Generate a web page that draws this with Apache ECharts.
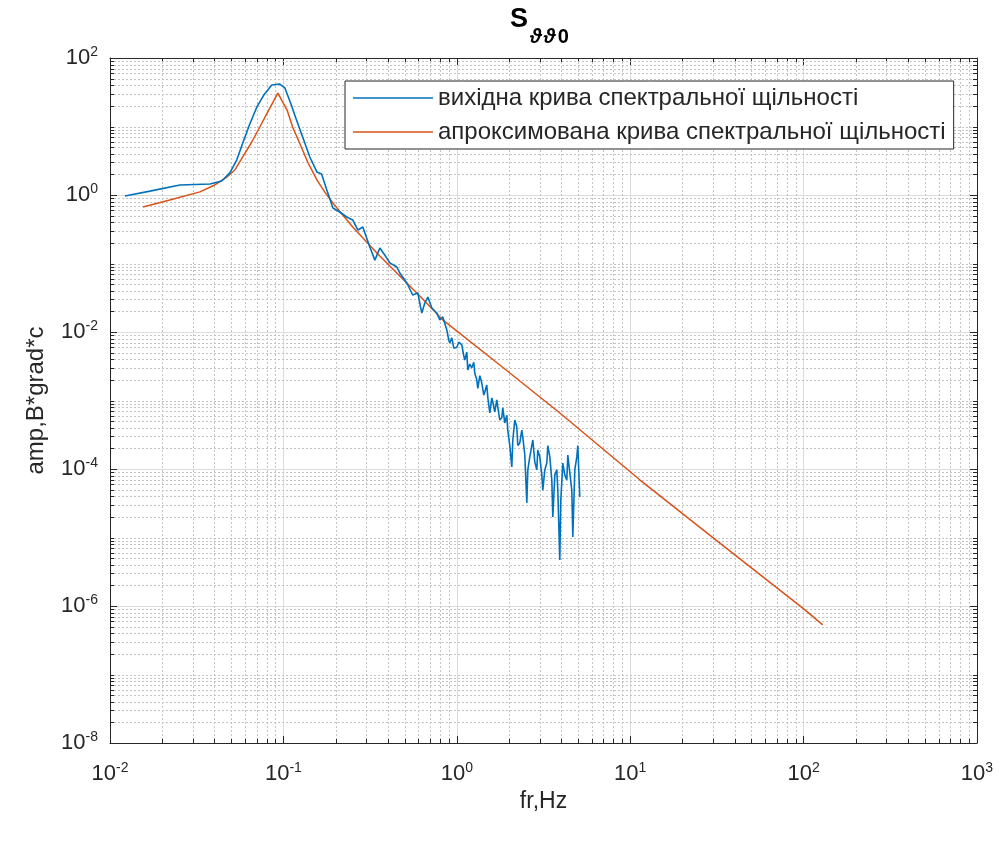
<!DOCTYPE html>
<html>
<head>
<meta charset="utf-8">
<title>S spectrum</title>
<script src="https://cdn.jsdelivr.net/npm/echarts@6/dist/echarts.min.js"></script>
<style>
  html, body { margin: 0; padding: 0; background: #fff; }
  #chart { width: 1005px; height: 842px; }
</style>
</head>
<body>
<div id="chart"></div>
<script>
// axis ranges, in decades
const xExpRange = [-2, 3];
const yExpRange = [-8, 2];

const legendNames = [
  'вихідна крива спектральної щільності',
  'апроксимована крива спектральної щільності'
];

// вихідна крива (raw spectrum)
const rawFreq = [
  0.0122, 0.0170, 0.0253, 0.0377, 0.0441, 0.0491, 0.0538, 0.0583, 0.0640, 0.0703,
  0.0771, 0.0857, 0.0953, 0.102, 0.110, 0.119, 0.131, 0.142, 0.156, 0.166,
  0.178, 0.193, 0.211, 0.232, 0.251, 0.269, 0.287, 0.315, 0.337, 0.360,
  0.384, 0.411, 0.451, 0.469, 0.515, 0.557, 0.596, 0.628, 0.654, 0.681,
  0.718, 0.767, 0.798, 0.830,
  0.876, 0.899, 0.911, 0.936, 0.961, 1.00, 1.027, 1.069, 1.097, 1.112,
  1.142, 1.157, 1.188, 1.220, 1.253, 1.270, 1.304, 1.322, 1.357, 1.394,
  1.431, 1.450, 1.489, 1.509, 1.529, 1.550, 1.591, 1.613, 1.656, 1.701,
  1.723, 1.770, 1.817, 1.842, 1.891, 1.942, 1.968, 2.021, 2.076, 2.104,
  2.160, 2.218, 2.248, 2.308, 2.371, 2.403, 2.467, 2.534, 2.568, 2.636,
  2.707, 2.744, 2.818, 2.893, 2.932, 3.011, 3.092, 3.133, 3.218, 3.304,
  3.349, 3.439, 3.531, 3.578, 3.675, 3.773, 3.824, 3.926, 3.979, 4.086,
  4.196, 4.309, 4.367, 4.484, 4.605, 4.667, 4.792, 4.921, 4.987, 5.121
];
const rawAmp = [
  0.967, 1.14, 1.40, 1.45, 1.60, 2.10, 3.24, 5.74, 10.9, 19.3,
  28.8, 40.4, 41.7, 36.5, 22.0, 12.4, 6.35, 3.59, 2.17, 2.03,
  1.18, 0.646, 0.565, 0.477, 0.432, 0.308, 0.341, 0.174, 0.112, 0.168,
  0.133, 0.102, 0.0889, 0.0727, 0.0519, 0.0347, 0.0371, 0.0189, 0.0265, 0.0324,
  0.0224, 0.0189, 0.0150, 0.0166,
  0.0107, 0.0076, 0.0069, 0.0082, 0.0058, 0.0060, 0.0071, 0.0065, 0.0045, 0.0039,
  0.0051, 0.0028, 0.0034, 0.0030, 0.0036, 0.0025, 0.0020, 0.0015, 0.0023, 0.0018,
  0.0012, 0.00133, 0.00168, 0.00112, 0.00086, 0.00066, 0.00109, 0.00095, 0.00068, 0.00102,
  0.00080, 0.00052, 0.00056, 0.00078, 0.00047, 0.00061, 0.00037, 0.00022, 0.000107, 0.000265,
  0.00052, 0.00041, 0.00022, 0.00024, 0.00037, 0.00029, 0.00016, 0.000032, 0.000097, 0.000150,
  0.00022, 0.000265, 0.000126, 0.000097, 0.000189, 0.000150, 0.000082, 0.000049, 0.000097, 0.000122,
  0.00022, 0.000150, 0.000069, 0.000020, 0.000082, 0.000097, 0.000049, 0.0000047, 0.000035, 0.000122,
  0.000082, 0.000069, 0.000160, 0.000150, 0.000049, 0.0000102, 0.000097, 0.000150, 0.00022, 0.000039
];

// апроксимована крива (fitted spectrum)
const fitFreq = [
  0.0155, 0.0221, 0.0330, 0.0402, 0.0472, 0.0525, 0.0583, 0.0657, 0.0731, 0.0813,
  0.0929, 0.105, 0.113, 0.124, 0.138, 0.156, 0.173, 0.193, 0.251, 0.346,
  0.469, 0.612, 0.830, 1.77, 3.93, 11.4, 32.9, 98.9, 129
];
const fitAmp = [
  0.668, 0.845, 1.11, 1.40, 1.83, 2.32, 3.59, 5.94, 9.84, 16.3,
  30.8, 17.4, 9.84, 5.74, 3.03, 1.66, 1.11, 0.764, 0.341, 0.142,
  0.0657, 0.0335, 0.0150, 0.00330, 0.000657, 0.000069, 0.0000083, 0.00000093, 0.00000053
];

const FONT = "'Liberation Sans', Arial, Helvetica, sans-serif";
const AXIS_COLOR = '#262626';
const MAJOR_GRID = '#dcdcdc';
const MINOR_GRID = '#c4c4c4';
const BLUE = '#0072BD';
const ORANGE = '#D95319';

function zip(xs, ys) {
  return xs.map((x, i) => [x, ys[i]]);
}

function powLabel(value) {
  const e = Math.round(Math.log10(value));
  return '{b|10}{s|' + e + '}';
}

const tickRich = {
  b: { fontSize: 22, fontFamily: FONT, color: AXIS_COLOR, lineHeight: 26 },
  s: { fontSize: 14, fontFamily: FONT, color: AXIS_COLOR, lineHeight: 11, verticalAlign: 'top' }
};

// minor grid lines and minor ticks of the log axes (2..9 per decade)
function drawMinorGrid(params, api) {
  const cs = params.coordSys;
  const x0 = cs.x, x1 = cs.x + cs.width, y0 = cs.y, y1 = cs.y + cs.height;
  const kids = [];
  const dotted = { stroke: MINOR_GRID, lineWidth: 1, lineDash: [2, 2] };
  const tick = { stroke: AXIS_COLOR, lineWidth: 1 };
  const add = (a, b, c, d, style) => kids.push({
    type: 'line', shape: { x1: a, y1: b, x2: c, y2: d }, style: style
  });
  for (let e = xExpRange[0]; e < xExpRange[1]; e++) {
    for (let k = 2; k <= 9; k++) {
      const px = Math.round(api.coord([k * Math.pow(10, e), 1])[0]) + 0.5;
      add(px, y0, px, y1, dotted);
      add(px, y1, px, y1 - 4, tick);
      add(px, y0, px, y0 + 4, tick);
    }
  }
  for (let e = yExpRange[0]; e < yExpRange[1]; e++) {
    for (let k = 1; k <= 9; k++) {
      if (k === 1 && e % 2 === 0) continue;
      const py = Math.round(api.coord([1, k * Math.pow(10, e)])[1]) + 0.5;
      add(x0, py, x1, py, dotted);
      add(x0, py, x0 + 4, py, tick);
      add(x1, py, x1 - 4, py, tick);
    }
  }
  return { type: 'group', children: kids };
}

const chart = echarts.init(document.getElementById('chart'), null, { renderer: 'canvas' });

const option = {
  animation: false,
  backgroundColor: '#fff',
  textStyle: { fontFamily: FONT },
  // title: "S" with the subscript set lower, as in the source figure
  graphic: [{
    type: 'text',
    left: 510,
    top: 6,
    z: 10,
    style: {
      text: 'S',
      font: "bold 27px 'Liberation Sans', Arial, sans-serif",
      fill: '#000'
    }
  }, {
    type: 'text',
    left: 530,
    top: 27,
    z: 10,
    style: {
      text: '{th|ϑ}{th|ϑ}{z|0}',
      rich: {
        th: { fontSize: 20, fontWeight: 'bold', fontStyle: 'italic', fontFamily: FONT, fill: '#000', color: '#000', padding: [0, 2, 0, 0] },
        z: { fontSize: 20, fontWeight: 'bold', fontFamily: FONT, fill: '#000', color: '#000' }
      }
    }
  }],
  grid: { left: 110, right: 28, top: 58, bottom: 99, containLabel: false },
  legend: {
    data: legendNames,
    orient: 'vertical',
    left: 345,
    top: 81,
    padding: [5, 8, 5, 8],
    icon: 'rect',
    itemWidth: 80,
    itemHeight: 1.5,
    itemGap: 10,
    borderColor: AXIS_COLOR,
    borderWidth: 1,
    backgroundColor: '#fff',
    selectedMode: false,
    textStyle: { fontSize: 24, fontFamily: FONT, color: AXIS_COLOR, lineHeight: 24 }
  },
  xAxis: [{
    type: 'log',
    logBase: 10,
    min: 0.01,
    max: 1000,
    position: 'bottom',
    name: 'fr,Hz',
    nameLocation: 'middle',
    nameGap: 46,
    nameTextStyle: { fontSize: 23, fontFamily: FONT, color: AXIS_COLOR },
    axisLine: { onZero: false, lineStyle: { color: AXIS_COLOR, width: 1 } },
    axisTick: { inside: true, length: 7, lineStyle: { color: AXIS_COLOR } },
    axisLabel: { margin: 18, formatter: powLabel, rich: tickRich },
    splitLine: { show: true, lineStyle: { color: MAJOR_GRID, width: 1 } }
  }, {
    type: 'log',
    logBase: 10,
    min: 0.01,
    max: 1000,
    position: 'top',
    axisLine: { onZero: false, lineStyle: { color: AXIS_COLOR, width: 1 } },
    axisTick: { inside: true, length: 7, lineStyle: { color: AXIS_COLOR } },
    axisLabel: { show: false },
    splitLine: { show: false }
  }],
  yAxis: [{
    type: 'log',
    logBase: 100,
    min: 1e-8,
    max: 100,
    position: 'left',
    name: 'amp,B*grad*c',
    nameLocation: 'middle',
    nameGap: 62,
    nameRotate: 90,
    nameTextStyle: { fontSize: 24, fontFamily: FONT, color: AXIS_COLOR },
    axisLine: { onZero: false, lineStyle: { color: AXIS_COLOR, width: 1 } },
    axisTick: { inside: true, length: 7, lineStyle: { color: AXIS_COLOR } },
    axisLabel: { margin: 12, formatter: powLabel, rich: tickRich },
    splitLine: { show: true, lineStyle: { color: MAJOR_GRID, width: 1 } }
  }, {
    type: 'log',
    logBase: 100,
    min: 1e-8,
    max: 100,
    position: 'right',
    axisLine: { onZero: false, lineStyle: { color: AXIS_COLOR, width: 1 } },
    axisTick: { inside: true, length: 7, lineStyle: { color: AXIS_COLOR } },
    axisLabel: { show: false },
    splitLine: { show: false }
  }],
  series: [{
    type: 'custom',
    name: 'minor-grid',
    xAxisIndex: 0,
    yAxisIndex: 0,
    silent: true,
    z: 1,
    renderItem: drawMinorGrid,
    data: [[1, 1]]
  }, {
    type: 'line',
    name: legendNames[0],
    xAxisIndex: 0,
    yAxisIndex: 0,
    data: zip(rawFreq, rawAmp),
    symbol: 'none',
    z: 4,
    lineStyle: { color: BLUE, width: 1.6 },
    itemStyle: { color: BLUE }
  }, {
    type: 'line',
    name: legendNames[1],
    xAxisIndex: 0,
    yAxisIndex: 0,
    data: zip(fitFreq, fitAmp),
    symbol: 'none',
    z: 3,
    lineStyle: { color: ORANGE, width: 1.5 },
    itemStyle: { color: ORANGE }
  }]
};

chart.setOption(option);
</script>
</body>
</html>
